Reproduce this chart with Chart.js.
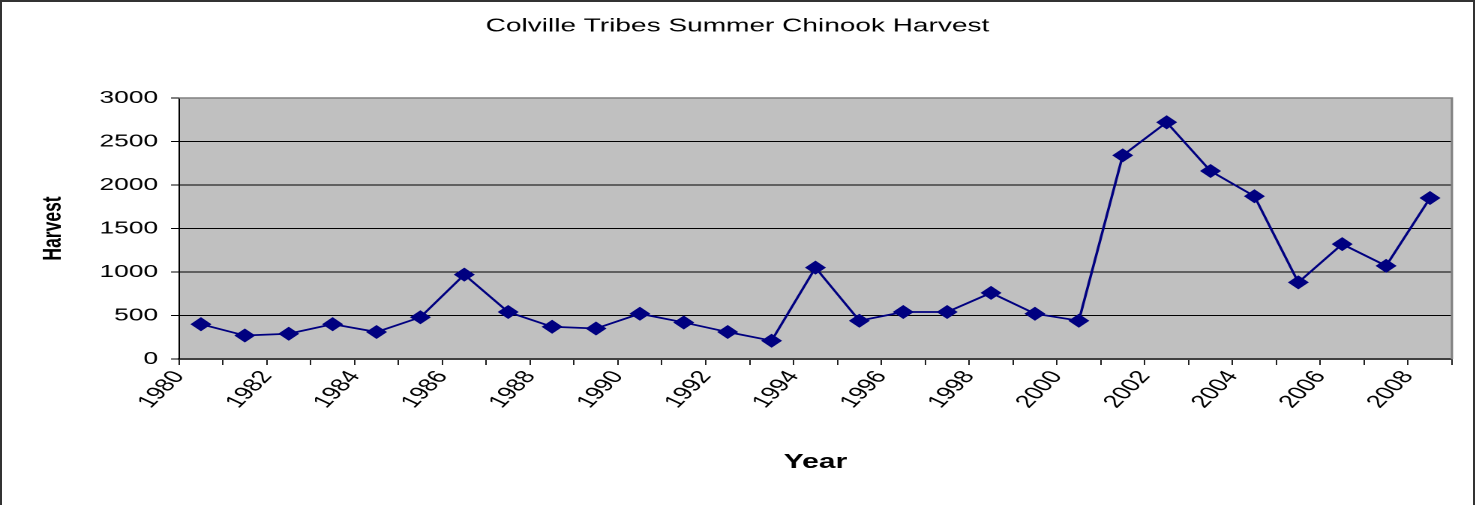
<!DOCTYPE html>
<html>
<head>
<meta charset="utf-8">
<script src="https://cdn.jsdelivr.net/npm/chart.js@4.4.1/dist/chart.umd.min.js"></script>
<style>
  html, body { margin: 0; padding: 0; background: #fff; }
  #frame { position: relative; width: 1475px; height: 505px; overflow: hidden; background: #fff; }
  #stretch { position: absolute; left: 0; top: 0; width: 983.333px; height: 505px; transform: scaleX(1.5); transform-origin: 0 0; }
  #border { position: absolute; left: 0; top: 0; width: 1475px; height: 505px; box-sizing: border-box;
            border-left: 2px solid #333; border-top: 2px solid #333; border-right: 2px solid #333; pointer-events: none; }
</style>
</head>
<body>
<div id="frame">
  <div id="stretch"><canvas id="c"></canvas></div>
  <div id="border"></div>
</div>
<script>
const chartTitle = 'Colville Tribes Summer Chinook Harvest';
const xAxisTitle = 'Year';
const yAxisTitle = 'Harvest';
const years = [1980,1981,1982,1983,1984,1985,1986,1987,1988,1989,1990,1991,1992,1993,1994,
               1995,1996,1997,1998,1999,2000,2001,2002,2003,2004,2005,2006,2007,2008];
const harvest = [400,270,290,400,310,480,970,540,370,350,520,420,310,210,1050,
                 440,540,540,760,520,440,2340,2720,2160,1870,880,1320,1070,1850];
const yTicks = [0,500,1000,1500,2000,2500,3000];
const xLabelYears = [1980,1982,1984,1986,1988,1990,1992,1994,1996,1998,2000,2002,2004,2006,2008];

const FONT = "'Liberation Sans', Arial, Helvetica, sans-serif";

const plotBg = {
  id: 'plotBg',
  beforeDraw(chart) {
    const a = chart.chartArea, ctx = chart.ctx;
    ctx.save();
    ctx.fillStyle = '#C0C0C0';
    ctx.fillRect(a.left, a.top, a.right - a.left, a.bottom - a.top);
    ctx.restore();
  },
  afterDraw(chart) {
    const a = chart.chartArea, ctx = chart.ctx;
    ctx.save();
    ctx.strokeStyle = '#808080';
    ctx.lineWidth = 1.5;
    ctx.beginPath();
    ctx.moveTo(a.left, a.top);
    ctx.lineTo(a.right, a.top);
    ctx.lineTo(a.right, a.bottom);
    ctx.stroke();
    ctx.restore();
  }
};

new Chart(document.getElementById('c'), {
  type: 'line',
  data: {
    datasets: [{
      data: years.map((yr, i) => ({ x: yr + 0.5, y: harvest[i] })),
      borderColor: '#000080',
      backgroundColor: '#000080',
      borderWidth: 1.75,
      pointStyle: 'rectRot',
      pointRadius: 6.3,
      pointBorderWidth: 1,
      pointBackgroundColor: '#000080',
      pointBorderColor: '#000080',
      tension: 0,
      clip: false
    }]
  },
  options: {
    responsive: true,
    maintainAspectRatio: false,
    animation: false,
    devicePixelRatio: 2,
    layout: { padding: 0 },
    plugins: {
      legend: { display: false },
      tooltip: { enabled: false },
      title: {
        display: true,
        text: chartTitle,
        color: '#000',
        font: { family: FONT, size: 18.7, weight: 'normal', lineHeight: 1.2 },
        padding: { top: 15, bottom: 60.5 }
      }
    },
    scales: {
      x: {
        type: 'linear',
        min: years[0],
        max: years[years.length - 1] + 1,
        offset: false,
        afterFit(scale) {
          scale.height = 146;
          scale.paddingLeft = 0;
          scale.paddingRight = 15.33;
        },
        grid: { drawOnChartArea: false, drawTicks: true, tickLength: 6, color: '#222', lineWidth: 1 },
        border: { display: true, color: '#404040', width: 2 },
        ticks: {
          stepSize: 1,
          maxTicksLimit: 100,
          autoSkip: false,
          minRotation: 55,
          maxRotation: 55,
          padding: 2,
          color: '#000',
          font: { family: FONT, size: 18 },
          callback: (v) => xLabelYears.includes(v) ? String(v) : ''
        },
        title: {
          display: true,
          text: xAxisTitle,
          color: '#000',
          font: { family: FONT, size: 20, weight: 'bold', lineHeight: 1.2 },
          padding: { top: 0, bottom: 30.5 }
        }
      },
      y: {
        min: 0,
        max: 3000,
        afterFit(scale) { scale.width = 119.33; },
        afterBuildTicks(scale) { scale.ticks = yTicks.map(v => ({ value: v })); },
        grid: {
          drawTicks: true,
          tickLength: 5.3,
          lineWidth: 1,
          color: (ctx) => ctx.tick && ctx.tick.value === 0 ? 'rgba(0,0,0,0)' : (ctx.tick && ctx.tick.value === 3000 ? '#808080' : '#000'),
          tickColor: '#000'
        },
        border: { display: true, color: '#000', width: 1 },
        ticks: {
          padding: 8.7,
          color: '#000',
          font: { family: FONT, size: 17.5 },
          callback: (v) => String(v)
        },
        title: {
          display: true,
          text: yAxisTitle,
          color: '#000',
          font: { family: FONT, size: 17.5, weight: 'bold', lineHeight: 1.2 },
          padding: { top: 25, bottom: 0 }
        }
      }
    }
  },
  plugins: [plotBg]
});
</script>
</body>
</html>
